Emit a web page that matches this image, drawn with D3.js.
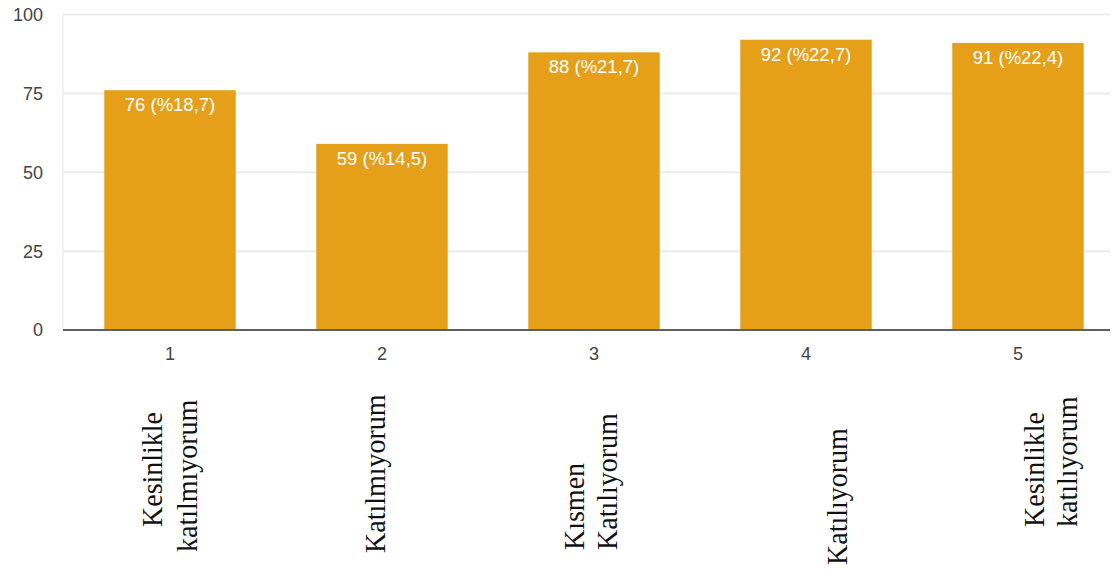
<!DOCTYPE html>
<html>
<head>
<meta charset="utf-8">
<script src="https://cdn.jsdelivr.net/npm/d3@7"></script>
<style>
  html, body { margin: 0; padding: 0; background: #fff; }
  svg { display: block; }
</style>
</head>
<body>
<svg id="chart" width="1113" height="571"></svg>
<script>
// ---- data ----
const categories = ["1", "2", "3", "4", "5"];
const counts = [76, 59, 88, 92, 91];
const percents = ["18,7", "14,5", "21,7", "22,7", "22,4"];
const yTicks = [0, 25, 50, 75, 100];
const labelLines = [
  ["Kesinlikle", "katılmıyorum"],
  ["Katılmıyorum"],
  ["Kısmen", "Katılıyorum"],
  ["Katılıyorum"],
  ["Kesinlikle", "katılıyorum"]
];

// ---- layout (not data) ----
// per-line [x offset of baseline from band centre, bottom y of the rotated text]
const labelLayout = [
  [[-8, 527], [27, 552]],
  [[3, 553]],
  [[-10, 550], [23, 550]],
  [[41, 565]],
  [[26, 527], [59, 527]]
];

const svg = d3.select("#chart");
const plotLeft = 63, plotRight = 1110;

const x = d3.scaleBand()
  .domain(categories)
  .range([64, 1124])
  .paddingInner(0.38)
  .paddingOuter(0.19);

const y = d3.scaleLinear().domain([0, 100]).range([330, 14.5]);

// gridlines
svg.append("g").selectAll("line")
  .data(yTicks.filter(d => d > 0))
  .join("line")
  .attr("x1", plotLeft).attr("x2", plotRight)
  .attr("y1", d => y(d)).attr("y2", d => y(d))
  .attr("stroke", "#ebebeb").attr("stroke-width", 2);

// faint left border
svg.append("line")
  .attr("x1", plotLeft).attr("x2", plotLeft)
  .attr("y1", y(100)).attr("y2", y(0))
  .attr("stroke", "#eeeeee").attr("stroke-width", 1.5);

// y axis labels
svg.append("g").selectAll("text")
  .data(yTicks)
  .join("text")
  .attr("x", 43)
  .attr("y", d => y(d))
  .attr("dy", "0.36em")
  .attr("text-anchor", "end")
  .attr("font-family", "'Liberation Sans', Arial, sans-serif")
  .attr("font-size", 18)
  .attr("fill", "#444")
  .text(d => d);

// bars
svg.append("g").selectAll("rect")
  .data(counts)
  .join("rect")
  .attr("x", (d, i) => x(categories[i]))
  .attr("width", x.bandwidth())
  .attr("y", d => y(d))
  .attr("height", d => y(0) - y(d))
  .attr("fill", "#E59F19");

// value labels
svg.append("g").selectAll("text")
  .data(counts)
  .join("text")
  .attr("x", (d, i) => x(categories[i]) + x.bandwidth() / 2)
  .attr("y", d => y(d) + 21)
  .attr("text-anchor", "middle")
  .attr("font-family", "'Liberation Sans', Arial, sans-serif")
  .attr("font-size", 18.5)
  .attr("fill", "#ffffff")
  .text((d, i) => `${d} (%${percents[i]})`);

// baseline
svg.append("line")
  .attr("x1", plotLeft).attr("x2", plotRight)
  .attr("y1", y(0)).attr("y2", y(0))
  .attr("stroke", "#5f5f5f").attr("stroke-width", 2);

// x tick labels
svg.append("g").selectAll("text")
  .data(categories)
  .join("text")
  .attr("x", d => x(d) + x.bandwidth() / 2)
  .attr("y", 360)
  .attr("text-anchor", "middle")
  .attr("font-family", "'Liberation Sans', Arial, sans-serif")
  .attr("font-size", 18)
  .attr("fill", "#444")
  .text(d => d);

// rotated category descriptions
const descG = svg.append("g");
labelLines.forEach((lines, i) => {
  const cx = x(categories[i]) + x.bandwidth() / 2;
  lines.forEach((line, j) => {
    const [dx, yb] = labelLayout[i][j];
    descG.append("text")
      .attr("transform", `translate(${cx + dx},${yb}) rotate(-90) scale(1,1.08)`)
      .attr("text-anchor", "start")
      .attr("font-family", "'Liberation Serif', 'Times New Roman', serif")
      .attr("font-size", 28)
      .attr("fill", "#111")
      .text(line);
  });
});
</script>
</body>
</html>
